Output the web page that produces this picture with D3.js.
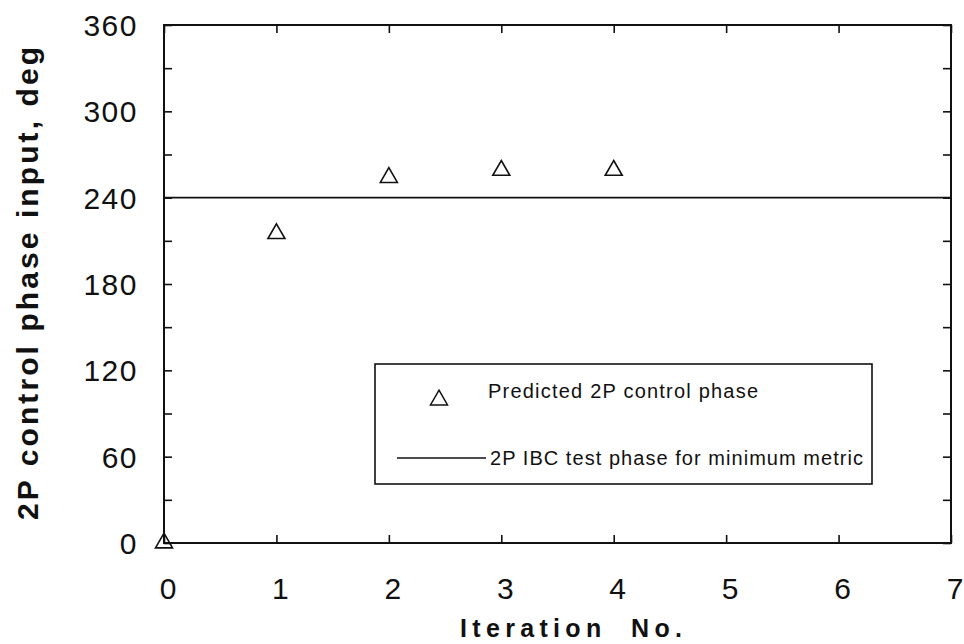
<!DOCTYPE html>
<html>
<head>
<meta charset="utf-8">
<script src="https://cdn.jsdelivr.net/npm/d3@7"></script>
<style>
  html, body { margin: 0; padding: 0; background: #fff; }
  svg { display: block; }
  text { font-family: "Liberation Sans", Arial, Helvetica, sans-serif; fill: #111; }
</style>
</head>
<body>
<svg id="chart" width="964" height="644"></svg>
<script>
// Predicted 2P control phase per iteration
const iterations = [0, 1, 2, 3, 4];
const predictedPhase = [0, 215, 254, 259, 259];

// Phase of the 2P IBC test with the minimum metric
const testPhase = 240;

const xTicks = [0, 1, 2, 3, 4, 5, 6, 7];
const yMajorTicks = [0, 60, 120, 180, 240, 300, 360];
const yMinorTicks = [0, 30, 60, 90, 120, 150, 180, 210, 240, 270, 300, 330, 360];

const legendLabels = ["Predicted 2P control phase", "2P IBC test phase for minimum metric"];
const xTitle = "Iteration  No.";
const yTitle = "2P control phase input, deg";

const svg = d3.select("#chart");
const plotLeft = 164, plotRight = 951, plotTop = 25, plotBottom = 543;

const x = d3.scaleLinear().domain([0, 7]).range([plotLeft, plotRight]);
const y = d3.scaleLinear().domain([0, 360]).range([plotBottom, plotTop]);

const ink = "#111";

// Inward ticks on all four sides
const axes = [
  { g: d3.axisBottom(x).tickValues(xTicks), t: `translate(0,${plotBottom})` },
  { g: d3.axisTop(x).tickValues(xTicks), t: `translate(0,${plotTop})` },
  { g: d3.axisLeft(y).tickValues(yMinorTicks), t: `translate(${plotLeft},0)` },
  { g: d3.axisRight(y).tickValues(yMinorTicks), t: `translate(${plotRight},0)` }
];
axes.forEach(a => {
  const g = svg.append("g").attr("transform", a.t)
    .call(a.g.tickSize(-8).tickFormat(""));
  g.select(".domain").remove();
  g.selectAll(".tick line").attr("stroke", ink).attr("stroke-width", 1.6);
});

// Frame
svg.append("rect")
  .attr("x", plotLeft).attr("y", plotTop)
  .attr("width", plotRight - plotLeft).attr("height", plotBottom - plotTop)
  .attr("fill", "none").attr("stroke", ink).attr("stroke-width", 2);

// Tick labels
svg.append("g").selectAll("text").data(xTicks).join("text")
  .attr("x", d => x(d) + 4)
  .attr("y", 599)
  .attr("text-anchor", "middle")
  .attr("font-size", 30)
  .text(d => d);

svg.append("g").selectAll("text").data(yMajorTicks).join("text")
  .attr("x", 138)
  .attr("y", d => y(d) + 11)
  .attr("text-anchor", "end")
  .attr("font-size", 30)
  .attr("letter-spacing", 1.5)
  .text(d => d);

// Axis titles
svg.append("text")
  .attr("x", 460).attr("y", 637)
  .attr("font-size", 25).attr("font-weight", "bold")
  .attr("textLength", 222).attr("lengthAdjust", "spacing")
  .style("white-space", "pre")
  .text(xTitle);

svg.append("text")
  .attr("transform", "translate(38,520) rotate(-90)")
  .attr("font-size", 30).attr("font-weight", "bold")
  .attr("textLength", 473).attr("lengthAdjust", "spacing")
  .text(yTitle);

// Reference line at the test phase
svg.append("line")
  .attr("x1", x(0)).attr("x2", x(7))
  .attr("y1", y(testPhase)).attr("y2", y(testPhase))
  .attr("stroke", ink).attr("stroke-width", 1.8);

// Predicted phase markers
const tri = d3.symbol().type(d3.symbolTriangle).size(125);
svg.append("g").selectAll("path").data(iterations).join("path")
  .attr("d", tri)
  .attr("transform", (d, i) => `translate(${x(d)},${y(predictedPhase[i])})`)
  .attr("fill", "none").attr("stroke", ink).attr("stroke-width", 1.6);

// Legend
const lg = svg.append("g");
lg.append("rect")
  .attr("x", 375).attr("y", 364).attr("width", 497).attr("height", 120)
  .attr("fill", "#fff").attr("stroke", ink).attr("stroke-width", 1.6);
lg.append("path")
  .attr("d", tri)
  .attr("transform", "translate(439,400)")
  .attr("fill", "none").attr("stroke", ink).attr("stroke-width", 1.5);
lg.append("line")
  .attr("x1", 397).attr("x2", 486).attr("y1", 458).attr("y2", 458)
  .attr("stroke", ink).attr("stroke-width", 1.4);
lg.append("text")
  .attr("x", 488).attr("y", 398)
  .attr("font-size", 20)
  .attr("textLength", 270).attr("lengthAdjust", "spacing")
  .text(legendLabels[0]);
lg.append("text")
  .attr("x", 490).attr("y", 465)
  .attr("font-size", 20)
  .attr("textLength", 373).attr("lengthAdjust", "spacing")
  .text(legendLabels[1]);
</script>
</body>
</html>
